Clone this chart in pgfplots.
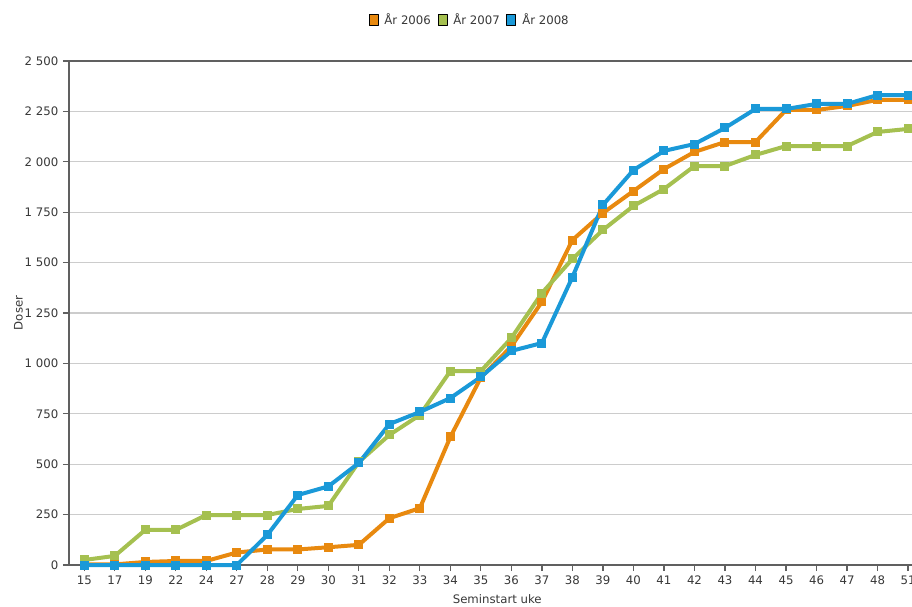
\documentclass[border=0pt]{standalone}
\usepackage{pgfplots}
\pgfplotsset{compat=1.18}
\usepackage{fontspec}
\setmainfont{DejaVu Sans}
\definecolor{c06}{HTML}{E8890F}
\definecolor{c07}{HTML}{A5C050}
\definecolor{c08}{HTML}{1A99D8}
\definecolor{gridc}{HTML}{CCCCCC}
\definecolor{axc}{HTML}{606060}
\definecolor{txt}{HTML}{383838}
\begin{document}
\begin{tikzpicture}
\useasboundingbox (-51.75pt,-30.75pt) rectangle (632.25pt,423.75pt);
\begin{axis}[
  at={(0,0)}, anchor=south west,
  scale only axis, width=632.25pt, height=378pt,
  xmin=-0.5, xmax=27.13, ymin=0, ymax=2500,
  clip=false,
  axis x line*=bottom, axis y line*=left,
  axis line style={axc, line width=1.1pt, -},
  xtick={0,...,27},
  xticklabels={15,17,19,22,24,27,28,29,30,31,32,33,34,35,36,37,38,39,40,41,42,43,44,45,46,47,48,51},
  ytick={0,250,...,2500},
  yticklabels={0,250,500,750,1\ 000,1\ 250,1\ 500,1\ 750,2\ 000,2\ 250,2\ 500},
  tick align=outside, major tick length=4.5pt,
  tick style={axc, line width=0.9pt},
  ymajorgrids, major grid style={gridc, line width=0.9pt},
  ticklabel style={font=\fontsize{8.8pt}{10pt}\selectfont, text=txt},
  xlabel={Seminstart uke}, ylabel={Doser},
  label style={font=\fontsize{8.8pt}{10pt}\selectfont, text=txt},
  xlabel style={at={(rel axis cs:0.508,0)}, anchor=center, yshift=-25.5pt},
  ylabel style={at={(rel axis cs:0,0.5)}, anchor=center, yshift=38pt},
  legend columns=3,
  legend style={draw=none, fill=none, at={(rel axis cs:0.4757,1.081)}, anchor=center,
    font=\fontsize{8.8pt}{10pt}\selectfont, text=txt,
    /tikz/every odd column/.append style={column sep=2.5pt},
    /tikz/every even column/.append style={column sep=3pt}},
  every axis plot/.append style={line width=3pt, mark=square*, mark size=3pt, line join=round},
]
\addplot[c06, mark options={fill=c06, draw=c06, line width=0pt},
  legend image code/.code={\draw[black,line width=0.6pt,fill=c06] (0pt,-4.1pt) rectangle (6.75pt,4.1pt);}]
  coordinates {(0,3)(1,3)(2,15)(3,20)(4,20)(5,62)(6,77)(7,77)(8,88)(9,100)(10,232)(11,282)(12,635)(13,930)(14,1085)(15,1305)(16,1612)(17,1746)(18,1855)(19,1964)(20,2049)(21,2098)(22,2098)(23,2257)(24,2257)(25,2277)(26,2307)(27,2307)};
\addlegendentry{År 2006}
\addplot[c07, mark options={fill=c07, draw=c07, line width=0pt},
  legend image code/.code={\draw[black,line width=0.6pt,fill=c07] (0pt,-4.1pt) rectangle (6.75pt,4.1pt);}]
  coordinates {(0,25)(1,45)(2,174)(3,174)(4,248)(5,248)(6,248)(7,278)(8,293)(9,511)(10,645)(11,744)(12,962)(13,962)(14,1126)(15,1349)(16,1518)(17,1662)(18,1781)(19,1865)(20,1979)(21,1979)(22,2034)(23,2078)(24,2078)(25,2078)(26,2148)(27,2163)};
\addlegendentry{År 2007}
\addplot[c08, mark options={fill=c08, draw=c08, line width=0pt},
  legend image code/.code={\draw[black,line width=0.6pt,fill=c08] (0pt,-4.1pt) rectangle (6.75pt,4.1pt);}]
  coordinates {(0,0)(1,0)(2,0)(3,0)(4,0)(5,0)(6,149)(7,347)(8,390)(9,506)(10,699)(11,759)(12,828)(13,933)(14,1062)(15,1101)(16,1428)(17,1786)(18,1959)(19,2054)(20,2088)(21,2168)(22,2262)(23,2262)(24,2287)(25,2287)(26,2331)(27,2331)};
\addlegendentry{År 2008}
\draw[axc, line width=1.1pt] (rel axis cs:0,1) -- (rel axis cs:1,1);
\end{axis}
\end{tikzpicture}
\end{document}
